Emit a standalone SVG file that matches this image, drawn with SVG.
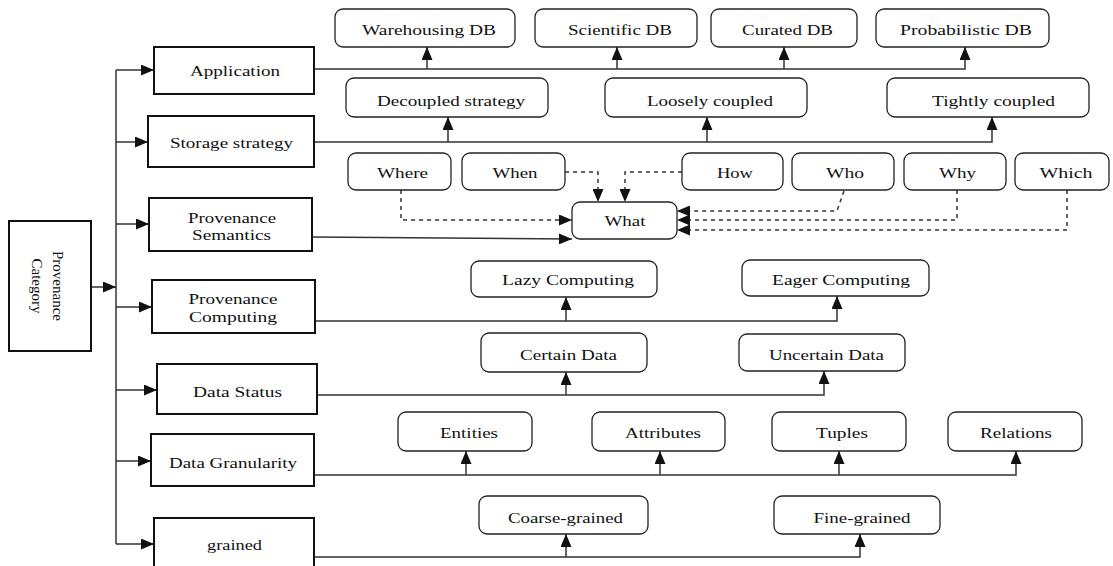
<svg xmlns="http://www.w3.org/2000/svg" width="1113" height="566" viewBox="0 0 1113 566">
<style>
.cat{fill:#fff;stroke:#111;stroke-width:2}
.leaf{fill:#fff;stroke:#222;stroke-width:1.3}
text{font-family:'Liberation Serif','Times New Roman',Times,serif;font-size:15px;fill:#111;text-anchor:middle}
.ln{fill:none;stroke:#333;stroke-width:1.5}
.dot{fill:none;stroke:#333;stroke-width:1.5;stroke-dasharray:4 4}
</style>
<defs>
<marker id="ah" markerUnits="userSpaceOnUse" markerWidth="13" markerHeight="11" refX="13" refY="5.5" orient="auto">
<path d="M0,0 L13,5.5 L0,11 z" fill="#111"/>
</marker>
</defs>
<rect width="1113" height="566" fill="#fff"/>
<g id="connectors">
<path class="ln" d="M116,70 V544"/>
<path class="ln" marker-end="url(#ah)" d="M91,287 H116"/>
<path class="ln" marker-end="url(#ah)" d="M116,70 H154"/>
<path class="ln" marker-end="url(#ah)" d="M116,142 H148"/>
<path class="ln" marker-end="url(#ah)" d="M116,224 H149"/>
<path class="ln" marker-end="url(#ah)" d="M116,307 H152"/>
<path class="ln" marker-end="url(#ah)" d="M116,390 H157"/>
<path class="ln" marker-end="url(#ah)" d="M116,461 H151"/>
<path class="ln" marker-end="url(#ah)" d="M116,544 H154"/>
<path class="ln" marker-end="url(#ah)" d="M314,69 H965 V47"/>
<path class="ln" marker-end="url(#ah)" d="M427,69 V47"/>
<path class="ln" marker-end="url(#ah)" d="M617,69 V47"/>
<path class="ln" marker-end="url(#ah)" d="M784,69 V47"/>
<path class="ln" marker-end="url(#ah)" d="M314,142 H992 V117"/>
<path class="ln" marker-end="url(#ah)" d="M448,142 V117"/>
<path class="ln" marker-end="url(#ah)" d="M707,142 V117"/>
<path class="ln" marker-end="url(#ah)" d="M312,237 L572,239"/>
<path class="dot" marker-end="url(#ah)" d="M401,190 V220 H572"/>
<path class="dot" marker-end="url(#ah)" d="M565,172 H598 V202"/>
<path class="dot" marker-end="url(#ah)" d="M682,172 H625 V202"/>
<path class="dot" marker-end="url(#ah)" d="M844,191 L837,211 H677"/>
<path class="dot" marker-end="url(#ah)" d="M957,190 V220 H677"/>
<path class="dot" marker-end="url(#ah)" d="M1067,190 V230 H677"/>
<path class="ln" marker-end="url(#ah)" d="M315,321 H837 V296"/>
<path class="ln" marker-end="url(#ah)" d="M566,321 V297"/>
<path class="ln" marker-end="url(#ah)" d="M317,395 H824 V371"/>
<path class="ln" marker-end="url(#ah)" d="M566,395 V372"/>
<path class="ln" marker-end="url(#ah)" d="M314,475 H1016 V451"/>
<path class="ln" marker-end="url(#ah)" d="M466,475 V451"/>
<path class="ln" marker-end="url(#ah)" d="M660,475 V451"/>
<path class="ln" marker-end="url(#ah)" d="M839,475 V451"/>
<path class="ln" marker-end="url(#ah)" d="M314,557 H860 V534"/>
<path class="ln" marker-end="url(#ah)" d="M566,557 V534"/>
</g>
<g id="provenance-category"><rect class="cat" x="9" y="221" width="82" height="130"/>
<text transform="translate(53,286) rotate(90)">Provenance</text>
<text transform="translate(32,286) rotate(90)">Category</text></g>
<g id="application"><rect class="cat" x="154" y="47" width="160" height="47"/><text x="235" y="76" textLength="90" lengthAdjust="spacingAndGlyphs">Application</text></g>
<g id="storage-strategy"><rect class="cat" x="148" y="116" width="166" height="51"/><text x="231.5" y="148" textLength="123" lengthAdjust="spacingAndGlyphs">Storage strategy</text></g>
<g id="provenance-semantics"><rect class="cat" x="149" y="198" width="163" height="53"/><text x="232" y="223" textLength="88" lengthAdjust="spacingAndGlyphs">Provenance</text><text x="231.5" y="240" textLength="79" lengthAdjust="spacingAndGlyphs">Semantics</text></g>
<g id="provenance-computing"><rect class="cat" x="152" y="280" width="163" height="53"/><text x="233" y="304" textLength="89" lengthAdjust="spacingAndGlyphs">Provenance</text><text x="233" y="322" textLength="88" lengthAdjust="spacingAndGlyphs">Computing</text></g>
<g id="data-status"><rect class="cat" x="157" y="364" width="160" height="50"/><text x="237.5" y="397" textLength="89" lengthAdjust="spacingAndGlyphs">Data Status</text></g>
<g id="data-granularity"><rect class="cat" x="151" y="434" width="163" height="52"/><text x="233" y="468" textLength="128" lengthAdjust="spacingAndGlyphs">Data Granularity</text></g>
<g id="grained"><rect class="cat" x="154" y="518" width="160" height="54"/><text x="234.5" y="550" textLength="55" lengthAdjust="spacingAndGlyphs">grained</text></g>
<g id="warehousing-db"><rect class="leaf" x="335" y="9" width="180" height="38" rx="8"/><text x="429" y="35" textLength="134" lengthAdjust="spacingAndGlyphs">Warehousing DB</text></g>
<g id="scientific-db"><rect class="leaf" x="535" y="9" width="162" height="38" rx="8"/><text x="620" y="35" textLength="104" lengthAdjust="spacingAndGlyphs">Scientific DB</text></g>
<g id="curated-db"><rect class="leaf" x="711" y="9" width="146" height="38" rx="8"/><text x="787.5" y="35" textLength="91" lengthAdjust="spacingAndGlyphs">Curated DB</text></g>
<g id="probabilistic-db"><rect class="leaf" x="876" y="9" width="173" height="38" rx="8"/><text x="966" y="35" textLength="132" lengthAdjust="spacingAndGlyphs">Probabilistic DB</text></g>
<g id="decoupled"><rect class="leaf" x="346" y="78" width="202" height="39" rx="8"/><text x="451" y="106" textLength="148" lengthAdjust="spacingAndGlyphs">Decoupled strategy</text></g>
<g id="loosely"><rect class="leaf" x="605" y="78" width="202" height="39" rx="8"/><text x="710" y="106" textLength="126" lengthAdjust="spacingAndGlyphs">Loosely coupled</text></g>
<g id="tightly"><rect class="leaf" x="887" y="78" width="202" height="39" rx="8"/><text x="993.5" y="106" textLength="123" lengthAdjust="spacingAndGlyphs">Tightly coupled</text></g>
<g id="where"><rect class="leaf" x="348" y="153" width="103" height="37" rx="8"/><text x="402.5" y="178" textLength="51" lengthAdjust="spacingAndGlyphs">Where</text></g>
<g id="when"><rect class="leaf" x="462" y="153" width="103" height="37" rx="8"/><text x="515" y="178" textLength="45" lengthAdjust="spacingAndGlyphs">When</text></g>
<g id="how"><rect class="leaf" x="682" y="153" width="101" height="37" rx="8"/><text x="735" y="178" textLength="36" lengthAdjust="spacingAndGlyphs">How</text></g>
<g id="who"><rect class="leaf" x="792" y="153" width="102" height="37" rx="8"/><text x="845" y="178" textLength="38" lengthAdjust="spacingAndGlyphs">Who</text></g>
<g id="why"><rect class="leaf" x="904" y="153" width="102" height="37" rx="8"/><text x="957.5" y="178" textLength="37" lengthAdjust="spacingAndGlyphs">Why</text></g>
<g id="which"><rect class="leaf" x="1015" y="153" width="94" height="37" rx="8"/><text x="1066" y="178" textLength="53" lengthAdjust="spacingAndGlyphs">Which</text></g>
<g id="what"><rect class="leaf" x="572" y="202" width="105" height="37" rx="8"/><text x="625" y="226" textLength="41" lengthAdjust="spacingAndGlyphs">What</text></g>
<g id="lazy"><rect class="leaf" x="471" y="261" width="186" height="36" rx="8"/><text x="568" y="285" textLength="132" lengthAdjust="spacingAndGlyphs">Lazy Computing</text></g>
<g id="eager"><rect class="leaf" x="742" y="260" width="187" height="36" rx="8"/><text x="841" y="285" textLength="138" lengthAdjust="spacingAndGlyphs">Eager Computing</text></g>
<g id="certain"><rect class="leaf" x="481" y="333" width="166" height="39" rx="8"/><text x="568.5" y="360" textLength="97" lengthAdjust="spacingAndGlyphs">Certain Data</text></g>
<g id="uncertain"><rect class="leaf" x="739" y="334" width="166" height="37" rx="8"/><text x="826.5" y="360" textLength="115" lengthAdjust="spacingAndGlyphs">Uncertain Data</text></g>
<g id="entities"><rect class="leaf" x="398" y="412" width="134" height="39" rx="8"/><text x="469" y="438" textLength="58" lengthAdjust="spacingAndGlyphs">Entities</text></g>
<g id="attributes"><rect class="leaf" x="592" y="412" width="133" height="39" rx="8"/><text x="663" y="438" textLength="76" lengthAdjust="spacingAndGlyphs">Attributes</text></g>
<g id="tuples"><rect class="leaf" x="772" y="412" width="134" height="39" rx="8"/><text x="842" y="438" textLength="52" lengthAdjust="spacingAndGlyphs">Tuples</text></g>
<g id="relations"><rect class="leaf" x="948" y="412" width="134" height="39" rx="8"/><text x="1016" y="438" textLength="72" lengthAdjust="spacingAndGlyphs">Relations</text></g>
<g id="coarse"><rect class="leaf" x="479" y="496" width="169" height="38" rx="8"/><text x="565.5" y="523" textLength="115" lengthAdjust="spacingAndGlyphs">Coarse-grained</text></g>
<g id="fine"><rect class="leaf" x="774" y="496" width="166" height="38" rx="8"/><text x="862" y="523" textLength="97" lengthAdjust="spacingAndGlyphs">Fine-grained</text></g>
</svg>
